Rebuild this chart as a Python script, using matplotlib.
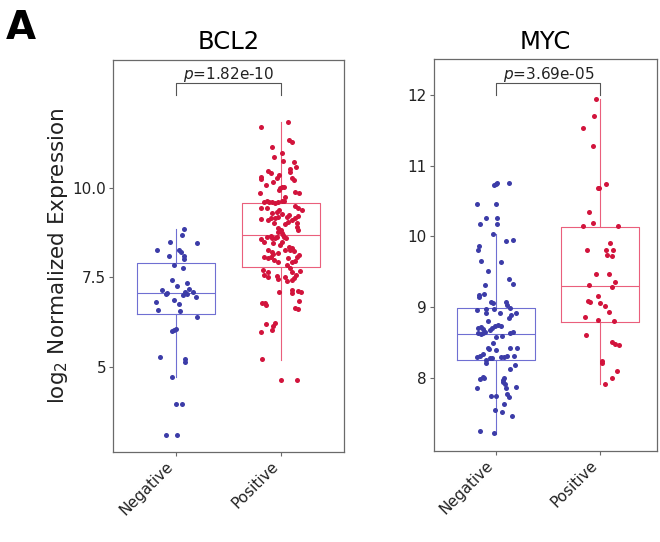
import matplotlib
matplotlib.use('Agg')
from matplotlib import pyplot as plt
from matplotlib.transforms import ScaledTranslation

# values; jitter is the horizontal spread in category units
bcl2_neg = [8.85, 8.69, 8.48, 8.46, 8.26, 8.26, 8.20, 8.09, 8.09, 8.02, 7.85, 7.77,
            7.42, 7.35, 7.27, 7.16, 7.17, 7.08, 7.10, 7.01, 7.04, 7.09, 7.03, 6.96,
            6.87, 6.82, 6.76, 6.59, 6.57, 6.40, 6.06, 6.03, 6.00, 5.29, 5.21, 5.15,
            4.73, 3.96, 3.96, 3.10, 3.09]
bcl2_neg_jit = [0.08, 0.06, -0.06, 0.20, -0.18, 0.03, 0.05, -0.07, 0.08, 0.08, -0.02, 0.07,
                -0.04, 0.10, 0.01, -0.13, 0.12, -0.09, 0.09, 0.07, 0.10, 0.16, -0.10, 0.19,
                -0.02, -0.19, 0.03, -0.17, 0.04, 0.20, 0.0, -0.02, -0.04, -0.15, 0.09, 0.09,
                -0.04, 0.0, 0.06, -0.10, 0.01]

bcl2_pos = [11.71, 11.84, 11.34, 11.28, 11.15, 10.97, 10.86, 10.75, 10.72, 10.58, 10.52, 10.45,
            10.47, 10.41, 10.32, 10.24, 10.35, 10.29, 10.27, 10.22, 10.18, 10.08, 9.99, 10.02,
            10.02, 9.85, 9.90, 9.85, 9.94, 9.76,
            9.60, 9.63, 9.62, 9.60, 9.59, 9.61, 9.63, 9.65,
            9.43, 9.45, 9.51, 9.43, 9.39, 9.34, 9.39, 9.29, 9.27, 9.20, 9.25, 9.17,
            9.23, 9.13, 9.11, 9.15, 9.15, 9.20, 9.06, 9.11, 9.01, 9.01, 8.99, 8.92,
            8.83, 8.87, 8.83, 8.76, 8.73, 8.69, 8.64, 8.67, 8.61, 8.59, 8.64, 8.58,
            8.50, 8.64, 8.59, 8.46, 8.41, 8.50, 8.36, 8.32, 8.24, 8.27, 8.27, 8.27,
            8.20, 8.15, 8.18, 8.08, 8.04, 8.08, 7.99, 7.94, 8.04, 7.94, 7.97, 8.13,
            8.08, 7.85, 7.77, 7.71, 7.66, 7.57, 7.52, 7.55, 7.66, 7.57, 7.48, 7.68,
            7.52, 7.46, 7.40, 7.43,
            7.10, 7.15, 7.06, 7.12, 7.09, 6.78, 6.80, 6.73, 6.84, 6.64, 6.61, 6.19,
            6.24, 6.15, 5.99, 6.03, 5.22, 4.64, 4.64]
bcl2_pos_jit = [-0.19, 0.07, 0.08, 0.10, -0.09, 0.01, -0.07, 0.02, 0.12, 0.14, 0.09, 0.09,
                -0.12, -0.10, -0.19, -0.19, -0.02, -0.04, 0.10, 0.12, -0.08, -0.14, -0.01, 0.01,
                0.03, -0.20, 0.13, 0.17, -0.02, 0.04,
                -0.16, -0.13, -0.11, -0.09, -0.06, -0.03, 0.01, 0.03,
                -0.19, -0.13, 0.13, 0.16, 0.20, -0.04, -0.02, -0.09, 0.01, 0.06, 0.08, 0.13,
                0.16, -0.19, -0.12, -0.10, -0.06, -0.03, 0.07, 0.10, 0.15, -0.07, 0.04, 0.15,
                0.16, -0.03, 0.0, -0.03, 0.01, 0.02, -0.13, -0.10, -0.09, -0.06, -0.04, -0.19,
                -0.16, 0.03, 0.05, -0.08, -0.01, 0.01, 0.08, 0.10, 0.12, 0.09, 0.04, -0.12,
                -0.09, -0.08, -0.03, -0.16, -0.12, -0.10, -0.07, -0.03, 0.07, 0.10, 0.13, 0.17,
                0.15, 0.06, 0.09, -0.17, -0.12, -0.16, -0.12, -0.04, 0.10, 0.14, 0.12, 0.18,
                0.04, -0.03, 0.06, 0.10,
                -0.02, 0.10, 0.10, 0.16, 0.19, -0.18, -0.15, -0.14, 0.17, 0.13, 0.16, -0.14,
                -0.06, -0.08, -0.19, -0.09, -0.18, 0.0, 0.15]

myc_neg = [10.73, 10.74, 10.76, 10.76, 10.45, 10.45, 10.26, 10.26, 10.18, 10.18, 10.03, 9.94,
           9.95, 9.86, 9.81, 9.65, 9.64, 9.51, 9.39, 9.33, 9.31, 9.17, 9.18, 9.14,
           8.95, 9.07, 9.05, 8.97, 9.07, 9.03, 8.97, 8.92, 8.91, 8.99, 8.89, 8.84,
           8.91, 8.80, 8.70, 8.73, 8.74, 8.73, 8.70, 8.71, 8.69, 8.63, 8.63, 8.61,
           8.65, 8.68, 8.58, 8.59, 8.63, 8.65, 8.49, 8.42, 8.40, 8.39, 8.42, 8.42,
           8.29, 8.30, 8.33, 8.25, 8.27, 8.27, 8.29, 8.29, 8.30, 8.21, 8.30, 8.18,
           8.12, 8.01, 8.00, 7.98, 8.00, 7.96, 7.93, 7.91, 7.85, 7.85, 7.86, 7.74,
           7.74, 7.76, 7.73, 7.63, 7.54, 7.51, 7.46, 7.25, 7.21]
myc_neg_jit = [-0.02, 0.0, 0.01, 0.12, -0.19, 0.0, -0.10, 0.01, 0.01, -0.16, -0.03, 0.09,
               0.16, -0.17, -0.18, -0.15, 0.04, -0.08, 0.12, 0.16, -0.11, -0.17, -0.12, -0.17,
               -0.19, -0.05, -0.03, -0.02, 0.09, 0.10, -0.10, -0.10, 0.03, 0.13, 0.14, 0.12,
               0.19, -0.08, -0.04, -0.01, 0.02, 0.04, -0.18, -0.15, -0.13, -0.18, -0.13, -0.15,
               -0.11, -0.06, 0.0, 0.05, 0.13, 0.16, -0.03, -0.08, -0.07, 0.0, 0.13, 0.20,
               -0.19, -0.16, -0.13, -0.10, -0.06, -0.04, 0.04, 0.07, 0.10, -0.10, 0.17, 0.18,
               0.13, -0.13, -0.12, -0.16, 0.07, 0.06, 0.06, 0.08, -0.19, 0.09, 0.19, -0.05,
               0.0, 0.10, 0.12, 0.07, -0.01, 0.05, 0.15, -0.16, -0.02]

myc_pos = [11.95, 11.71, 11.54, 11.28, 10.74, 10.68, 10.69, 10.35, 10.19, 10.14, 10.14, 9.91,
           9.80, 9.80, 9.74, 9.80, 9.72, 9.46, 9.46, 9.31, 9.35, 9.28, 9.15, 9.09,
           9.07, 9.06, 9.01, 8.93, 8.86, 8.81, 8.80, 8.60, 8.50, 8.47, 8.46, 8.23,
           8.20, 8.09, 8.00, 7.91]
myc_pos_jit = [-0.04, -0.06, -0.17, -0.07, 0.05, -0.02, -0.01, -0.11, -0.07, -0.17, 0.17, 0.09,
               -0.13, 0.05, 0.06, 0.12, 0.11, -0.04, 0.08, -0.11, 0.14, 0.11, -0.02, -0.12,
               -0.10, 0.0, 0.04, 0.08, -0.15, -0.02, 0.13, -0.14, 0.11, 0.14, 0.18, 0.02,
               0.02, 0.16, 0.11, 0.04]

# box statistics: whisker low, q1, median, q3, whisker high
bcl2_box = [[4.71, 6.49, 7.06, 7.91, 8.85], [5.20, 7.80, 8.69, 9.57, 11.85]]
myc_box = [[7.20, 8.255, 8.61, 8.98, 10.03], [7.905, 8.78, 9.29, 10.13, 11.94]]

groups = ['Negative', 'Positive']
point_colors = ['#3c3ca8', '#d2143c']
box_colors = ['#6f6fd2', '#ea5f7c']


def draw_panel(ax, neg, neg_jit, pos, pos_jit, box):
    for i, b in enumerate(box):
        st = {'whislo': b[0], 'q1': b[1], 'med': b[2], 'q3': b[3], 'whishi': b[4]}
        ax.bxp([st], positions=[i + 1], widths=0.75, showfliers=False, showcaps=False,
               boxprops=dict(color=box_colors[i], linewidth=0.8),
               medianprops=dict(color=box_colors[i], linewidth=0.8),
               whiskerprops=dict(color=box_colors[i], linewidth=0.8), manage_ticks=False)
    ax.scatter([1 + j for j in neg_jit], neg, s=13, color=point_colors[0], linewidths=0, zorder=3)
    ax.scatter([2 + j for j in pos_jit], pos, s=13, color=point_colors[1], linewidths=0, zorder=3)
    ax.set_xticks([1, 2])
    ax.set_xticklabels(groups, rotation=45, ha='right', va='top', fontsize=15.5, color='#222222')
    for lbl in ax.get_xticklabels():
        lbl.set_transform(lbl.get_transform() + ScaledTranslation(0.05, 0, ax.figure.dpi_scale_trans))
    for sp in ax.spines.values():
        sp.set_color('#6a6a6a')
        sp.set_linewidth(0.9)
    ax.tick_params(length=3, color='#6a6a6a', labelsize=11, labelcolor='#222222', pad=2)


def bracket(ax, y_top, y_bot):
    ax.plot([1, 1, 2, 2], [y_bot, y_top, y_top, y_bot], color='#555555', linewidth=0.8)


fig = plt.figure(figsize=(6.6, 5.42), dpi=100)
ax1 = fig.add_axes([113 / 660, 1 - 452 / 542, 231 / 660, 392 / 542])
ax2 = fig.add_axes([434 / 660, 1 - 451 / 542, 223 / 660, 392 / 542])

draw_panel(ax1, bcl2_neg, bcl2_neg_jit, bcl2_pos, bcl2_pos_jit, bcl2_box)
ax1.set_xlim(0.4, 2.6)
ax1.set_ylim(2.626, 13.575)
ax1.set_yticks([5, 7.5, 10])
ax1.set_yticklabels(['5', '7.5', '10.0'])
bracket(ax1, 12.92, 12.6)

draw_panel(ax2, myc_neg, myc_neg_jit, myc_pos, myc_pos_jit, myc_box)
ax2.set_xlim(0.4, 0.4 + 223 / 104)
ax2.set_ylim(6.96, 12.51)
ax2.set_yticks([8, 9, 10, 11, 12])
ax2.set_yticklabels(['8', '9', '10', '11', '12'])
bracket(ax2, 12.17, 12.0)

fig.text(229 / 660, 1 - 75 / 542, '$p$=1.82e-10', ha='center', va='center', fontsize=11, color='#222222')
fig.text(549 / 660, 1 - 75 / 542, '$p$=3.69e-05', ha='center', va='center', fontsize=11, color='#222222')

fig.text(229 / 660, 1 - 42 / 542, 'BCL2', ha='center', va='center', fontsize=17.5)
fig.text(545 / 660, 1 - 42 / 542, 'MYC', ha='center', va='center', fontsize=17.5)
fig.text(58 / 660, 1 - 256 / 542, 'log$_2$ Normalized Expression', rotation=90,
         ha='center', va='center', fontsize=15.5, color='#222222')
fig.text(6 / 660, 1 - 28 / 542, 'A', ha='left', va='center', fontsize=28, fontweight='bold')

fig.savefig('out.png', dpi=100)
